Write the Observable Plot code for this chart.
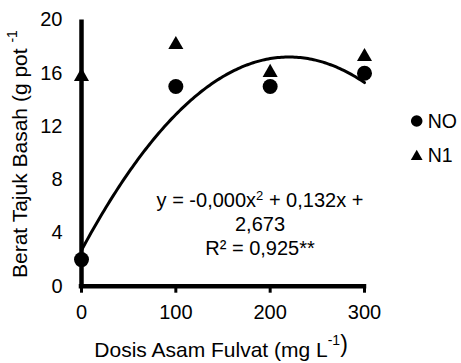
<!DOCTYPE html>
<html>
<head>
<meta charset="utf-8">
<script src="https://cdn.jsdelivr.net/npm/d3@7"></script>
<script src="https://cdn.jsdelivr.net/npm/@observablehq/plot@0.6"></script>
<style>
  html, body { margin: 0; padding: 0; background: #fff; }
  #wrap { position: relative; width: 461px; height: 363px; font-family: "Liberation Sans", Arial, sans-serif; color: #000; }
  #wrap > svg { position: absolute; left: 0; top: 0; }
  #eq { position: absolute; left: 140px; width: 240px; top: 187.6px; text-align: center; font-size: 20px; line-height: 24px; white-space: nowrap; }
  #eq sup { font-size: 13px; vertical-align: 7px; line-height: 0; }
</style>
</head>
<body>
<div id="wrap"></div>
<script>
// ---- data ----
const doses = [0, 100, 200, 300];
const noValues = [2.0, 15.0, 15.0, 16.0];
const n1Values = [15.9, 18.3, 16.2, 17.4];
const seriesNames = ["NO", "N1"];
const xTicks = [0, 100, 200, 300];
const yTicks = [0, 4, 8, 12, 16, 20];
const xTitle = ["Dosis Asam Fulvat (mg L", "-1", ")"];
const yTitle = ["Berat Tajuk Basah (g pot ", "-1"];
const eqLine1 = ["y = -0,000x", "2", " + 0,132x +"];
const eqLine2 = "2,673";
const eqLine3 = "R² = 0,925**";

// ---- quadratic least-squares trendline fitted to the NO series ----
function quadFit(xs, ys) {
  const S = k => d3.sum(xs, x => x ** k);
  const T = k => d3.sum(xs.map((x, i) => x ** k * ys[i]));
  const A = [[S(0), S(1), S(2), T(0)], [S(1), S(2), S(3), T(1)], [S(2), S(3), S(4), T(2)]];
  for (let i = 0; i < 3; i++) {
    for (let j = i + 1; j < 3; j++) {
      const f = A[j][i] / A[i][i];
      for (let k = i; k < 4; k++) A[j][k] -= f * A[i][k];
    }
  }
  const c = [0, 0, 0];
  for (let i = 2; i >= 0; i--) {
    let s = A[i][3];
    for (let k = i + 1; k < 3; k++) s -= A[i][k] * c[k];
    c[i] = s / A[i][i];
  }
  return x => c[0] + c[1] * x + c[2] * x * x;
}
const fit = quadFit(doses, noValues);
const xMin = d3.min(doses), xMax = d3.max(doses);
const trend = d3.range(xMin, xMax + 0.001, (xMax - xMin) / 150).map(x => ({x, y: fit(x)}));

const noData = doses.map((d, i) => ({dose: d, value: noValues[i]}));
const n1Data = doses.map((d, i) => ({dose: d, value: n1Values[i]}));

const W = 461, H = 363;
const chart = Plot.plot({
  width: W, height: H,
  marginLeft: 81, marginRight: 97, marginTop: 19.5, marginBottom: 77.3,
  style: {fontFamily: '"Liberation Sans", Arial, sans-serif', fontSize: "20px", color: "#000", background: "transparent", overflow: "visible"},
  x: {domain: [0, 300]},
  y: {domain: [0, 20]},
  marks: [
    Plot.axisY({ticks: yTicks, tickSize: 0, tickPadding: 19, label: null}),
    Plot.axisX({ticks: xTicks, tickSize: 7, tickPadding: 12, strokeWidth: 3, label: null}),
    Plot.ruleY([0], {stroke: "#000", strokeWidth: 4.5, strokeLinecap: "square"}),
    Plot.ruleX([0], {y1: 0, y2: 20, stroke: "#000", strokeWidth: 4.5}),
    Plot.line(trend, {x: "x", y: "y", stroke: "#000", strokeWidth: 3, curve: "linear"}),
    Plot.dot(noData, {x: "dose", y: "value", symbol: "circle", r: 7.5, fill: "#000", stroke: "none"}),
    Plot.dot(n1Data, {x: "dose", y: "value", symbol: "triangle", r: 5.6, fill: "#000", stroke: "none", dy: 2})
  ]
});
const wrap = document.getElementById("wrap");
wrap.appendChild(chart);

// ---- overlay: axis titles and legend ----
const ov = d3.select(wrap).append("svg")
  .attr("width", W).attr("height", H)
  .style("font-family", '"Liberation Sans", Arial, sans-serif')
  .style("overflow", "visible");

const xt = ov.append("text").attr("x", 94.3).attr("y", 356.7).attr("font-size", 21).attr("fill", "#000");
xt.append("tspan").text(xTitle[0]);
xt.append("tspan").attr("font-size", 14).attr("dy", -11.5).text(xTitle[1]);
xt.append("tspan").attr("font-size", 23).attr("dy", 7).text(xTitle[2]);

const yt = ov.append("text").attr("transform", "translate(27,278) rotate(-90)").attr("font-size", 21).attr("fill", "#000");
yt.append("tspan").text(yTitle[0]);
yt.append("tspan").attr("font-size", 14).attr("dy", -10).text(yTitle[1]);

const legendSymbols = [d3.symbolCircle, d3.symbolTriangle];
const legendSizes = [Math.PI * 5.8 * 5.8, 60];
const legendY = [121, 155];
seriesNames.forEach((name, i) => {
  const g = ov.append("g").attr("transform", `translate(416.7,${legendY[i]})`);
  g.append("path").attr("d", d3.symbol(legendSymbols[i], legendSizes[i])()).attr("fill", "#000")
    .attr("transform", i === 1 ? "translate(0,1.5)" : null);
  g.append("text").attr("x", 11).attr("y", 7).attr("font-size", 19.5).attr("fill", "#000").text(name);
});

// ---- equation annotation ----
const eq = d3.select(wrap).append("div").attr("id", "eq");
const l1 = eq.append("div");
l1.append("span").text(eqLine1[0]);
l1.append("sup").text(eqLine1[1]);
l1.append("span").text(eqLine1[2]);
eq.append("div").text(eqLine2);
eq.append("div").text(eqLine3);
</script>
</body>
</html>
